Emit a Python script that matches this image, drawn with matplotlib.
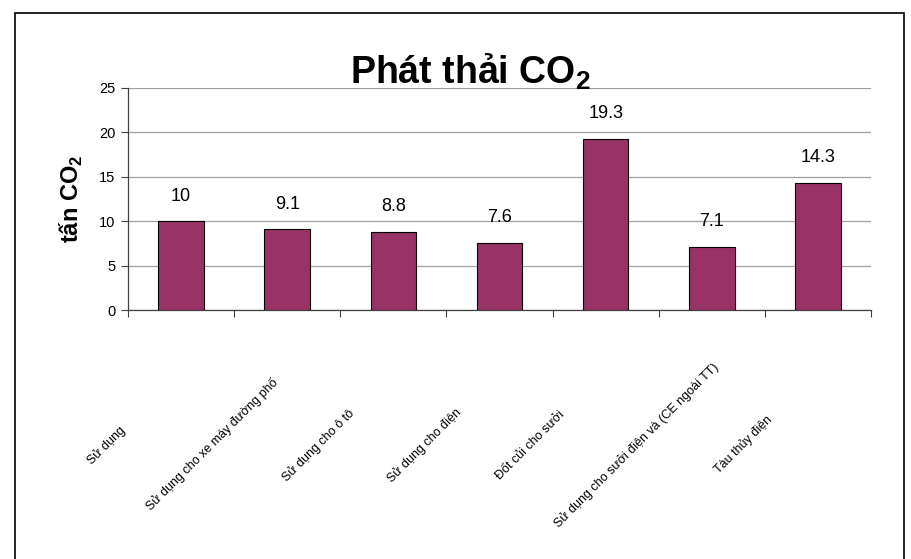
import matplotlib
matplotlib.use("Agg")
import matplotlib.pyplot as plt
from matplotlib.patches import Rectangle
from matplotlib import transforms

plt.rcParams['font.family'] = ['Liberation Sans', 'DejaVu Sans']
plt.rcParams['mathtext.fontset'] = 'custom'
plt.rcParams['mathtext.rm'] = 'Liberation Sans'
plt.rcParams['mathtext.bf'] = 'Liberation Sans:bold'

categories = [
    "Sử dụng",
    "Sử dụng cho xe máy đường phố",
    "Sử dụng cho ô tô",
    "Sử dụng cho điện",
    "Đốt củi cho sưởi",
    "Sử dụng cho sưởi điện và (CE ngoài TT)",
    "Tàu thủy điện",
]
emissions = [10, 9.1, 8.8, 7.6, 19.3, 7.1, 14.3]
yticks = [0, 5, 10, 15, 20, 25]

fig = plt.figure(figsize=(9.12, 5.59), dpi=100)
fig.patch.set_facecolor("white")
# frame around the whole chart area
fig.add_artist(Rectangle((15 / 912, -0.02), 889 / 912, 1 - 13 / 559 + 0.02,
                         transform=fig.transFigure, fill=False,
                         edgecolor="black", linewidth=1.2))

ax = fig.add_axes([128 / 912, 1 - 310 / 559, 743 / 912, 222 / 559])
x = list(range(len(categories)))
ax.bar(x, emissions, width=0.43, color="#993366", edgecolor="black", linewidth=0.8, zorder=3)

for xi, v in zip(x, emissions):
    ax.annotate(f"{v:g}", (xi, v), xytext=(0, 12), textcoords="offset points",
                ha="center", va="bottom", fontsize=13)

ax.set_xlim(-0.5, len(categories) - 0.5)
ax.set_ylim(0, 25)
ax.set_yticks(yticks)
ax.tick_params(axis="y", labelsize=10.5, length=5, color="#404040", pad=4)
ax.yaxis.grid(True, color="#a0a0a0", linewidth=0.9, zorder=0)
ax.set_axisbelow(True)
for s in ("top", "right"):
    ax.spines[s].set_visible(False)
for s in ("left", "bottom"):
    ax.spines[s].set_color("#404040")
    ax.spines[s].set_linewidth(0.9)

# category boundary ticks on the x axis
ax.set_xticks([i - 0.5 for i in range(len(categories) + 1)])
ax.set_xticklabels([])
ax.tick_params(axis="x", length=5, color="#404040")

# slanted category names under the axis
for xi, name in zip(x, categories):
    tr = transforms.offset_copy(ax.get_xaxis_transform(), fig=fig, x=-75, y=-135, units="dots")
    ax.text(xi, 0, name, transform=tr, rotation=45, ha="center", va="center",
            fontsize=9, rotation_mode="anchor")

ax.set_ylabel(r"tấn CO$_\mathbf{2}$", fontsize=17, fontweight="bold", labelpad=10)
fig.text(470 / 912, 1 - 72 / 559, r"Phát thải CO$_\mathbf{2}$", ha="center", va="center",
         fontsize=27, fontweight="bold")

fig.savefig("out.png", dpi=100)
